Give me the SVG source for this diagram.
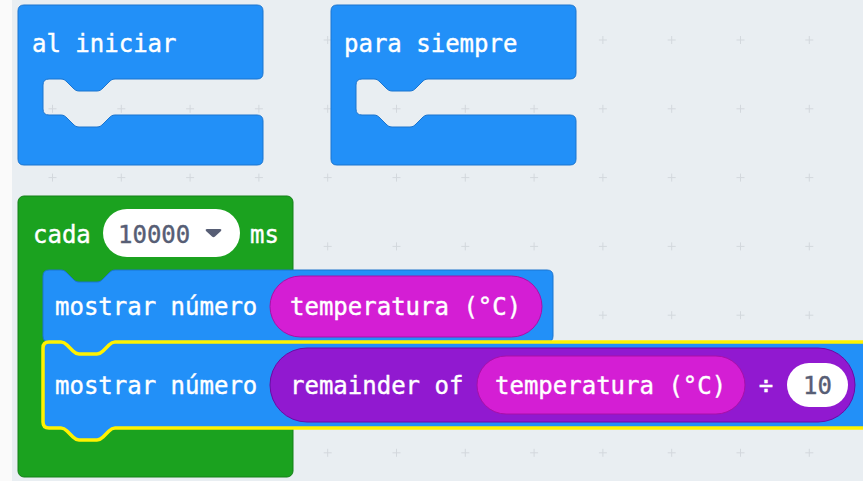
<svg xmlns="http://www.w3.org/2000/svg" width="863" height="481" viewBox="0 0 863 481">
<defs>
<style>
.bg{fill:#e9eef2}
.lbl{font-family:"DejaVu Sans Mono","Liberation Mono",monospace;font-size:24px;fill:#ffffff;stroke:#ffffff;stroke-width:0.4}
.num{font-family:"DejaVu Sans Mono","Liberation Mono",monospace;font-size:24px;fill:#575e75;stroke:#575e75;stroke-width:0.4}
.blue{fill:#2290f8;stroke:#1a74cf;stroke-width:1}
.green{fill:#1ba21f;stroke:#148018;stroke-width:1}
.mag{fill:#d41ed4;stroke:#a810a8;stroke-width:1}
.pur{fill:#9119d0;stroke:#6d0aa3;stroke-width:1}
.sel{fill:#2290f8;stroke:#fff200;stroke-width:3.5}
.grid{stroke:#d3d8dd;stroke-width:1;fill:none}
</style>
<path id="cshape" d="M24,5 H257 Q263,5 263,11 V73 Q263,79 257,79 H115 c-3,0 -4.5,1.5 -6,3 l-6,6 c-1.5,1.5 -3,3 -6,3 h-18 c-3,0 -4.5,-1.5 -6,-3 l-6,-6 c-1.5,-1.5 -3,-3 -6,-3 H49 Q43,79 43,85 V109 Q43,115 49,115 H61 c3,0 4.5,1.5 6,3 l6,6 c1.5,1.5 3,3 6,3 h18 c3,0 4.5,-1.5 6,-3 l6,-6 c1.5,-1.5 3,-3 6,-3 H257 Q263,115 263,121 V159 Q263,165 257,165 H24 Q18,165 18,159 V11 Q18,5 24,5 Z"/>
</defs>
<rect class="bg" x="0" y="0" width="863" height="481"/>
<rect x="0" y="0" width="12" height="481" fill="#fafafa"/>
<g class="grid">
<path d="M52.5,36v8M48.5,40h8 M121.3,36v8M117.3,40h8 M190.1,36v8M186.1,40h8 M258.9,36v8M254.9,40h8 M327.7,36v8M323.7,40h8 M396.5,36v8M392.5,40h8 M465.3,36v8M461.3,40h8 M534.1,36v8M530.1,40h8 M602.9,36v8M598.9,40h8 M671.7,36v8M667.7,40h8 M740.5,36v8M736.5,40h8 M809.3,36v8M805.3,40h8"/>
<path d="M52.5,104.8v8M48.5,108.8h8 M121.3,104.8v8M117.3,108.8h8 M190.1,104.8v8M186.1,108.8h8 M258.9,104.8v8M254.9,108.8h8 M327.7,104.8v8M323.7,108.8h8 M396.5,104.8v8M392.5,108.8h8 M465.3,104.8v8M461.3,108.8h8 M534.1,104.8v8M530.1,108.8h8 M602.9,104.8v8M598.9,108.8h8 M671.7,104.8v8M667.7,108.8h8 M740.5,104.8v8M736.5,108.8h8 M809.3,104.8v8M805.3,108.8h8"/>
<path d="M52.5,173.6v8M48.5,177.6h8 M121.3,173.6v8M117.3,177.6h8 M190.1,173.6v8M186.1,177.6h8 M258.9,173.6v8M254.9,177.6h8 M327.7,173.6v8M323.7,177.6h8 M396.5,173.6v8M392.5,177.6h8 M465.3,173.6v8M461.3,177.6h8 M534.1,173.6v8M530.1,177.6h8 M602.9,173.6v8M598.9,177.6h8 M671.7,173.6v8M667.7,177.6h8 M740.5,173.6v8M736.5,177.6h8 M809.3,173.6v8M805.3,177.6h8"/>
<path d="M327.7,242.4v8M323.7,246.4h8 M396.5,242.4v8M392.5,246.4h8 M465.3,242.4v8M461.3,246.4h8 M534.1,242.4v8M530.1,246.4h8 M602.9,242.4v8M598.9,246.4h8 M671.7,242.4v8M667.7,246.4h8 M740.5,242.4v8M736.5,246.4h8 M809.3,242.4v8M805.3,246.4h8"/>
<path d="M602.9,311.2v8M598.9,315.2h8 M671.7,311.2v8M667.7,315.2h8 M740.5,311.2v8M736.5,315.2h8 M809.3,311.2v8M805.3,315.2h8"/>
<path d="M327.7,448.8v8M323.7,452.8h8 M396.5,448.8v8M392.5,452.8h8 M465.3,448.8v8M461.3,452.8h8 M534.1,448.8v8M530.1,452.8h8 M602.9,448.8v8M598.9,452.8h8 M671.7,448.8v8M667.7,452.8h8 M740.5,448.8v8M736.5,452.8h8 M809.3,448.8v8M805.3,452.8h8"/>
</g>
<g id="al-iniciar">
<use href="#cshape" class="blue"/>
<text class="lbl" x="32" y="52">al iniciar</text>
</g>
<g id="para-siempre">
<use href="#cshape" class="blue" transform="translate(313,0)"/>
<text class="lbl" x="344" y="52">para siempre</text>
</g>
<g id="cada">
<rect class="green" x="18" y="196" width="275" height="281" rx="6"/>
<text class="lbl" x="33" y="243">cada</text>
<rect x="103" y="209" width="137" height="48" rx="24" fill="#ffffff"/>
<text class="num" x="118" y="243">10000</text>
<path d="M207,229 H220 Q222,229 221,231 L215,236.5 Q213.5,238 212,236.5 L206,231 Q205,229 207,229 Z" fill="#575e75"/>
<text class="lbl" x="250" y="243">ms</text>
</g>
<g id="mostrar1">
<path class="blue" d="M49,270 H61 c3,0 4.5,1.5 6,3 l6,6 c1.5,1.5 3,3 6,3 h18 c3,0 4.5,-1.5 6,-3 l6,-6 c1.5,-1.5 3,-3 6,-3 H547 Q553,270 553,276 V336 Q553,342 547,342 H115 c-3,0 -4.5,1.5 -6,3 l-6,6 c-1.5,1.5 -3,3 -6,3 h-18 c-3,0 -4.5,-1.5 -6,-3 l-6,-6 c-1.5,-1.5 -3,-3 -6,-3 H49 Q43,342 43,336 V276 Q43,270 49,270 Z"/>
<text class="lbl" x="55" y="315">mostrar número</text>
<rect class="mag" x="270" y="276" width="272" height="61" rx="30.5"/>
<text class="lbl" x="290" y="315">temperatura (°C)</text>
</g>
<g id="mostrar2">
<path class="sel" d="M49,342 H61 c3,0 4.5,1.5 6,3 l6,6 c1.5,1.5 3,3 6,3 h18 c3,0 4.5,-1.5 6,-3 l6,-6 c1.5,-1.5 3,-3 6,-3 H880 V428 H115 c-3,0 -4.5,1.5 -6,3 l-6,6 c-1.5,1.5 -3,3 -6,3 h-18 c-3,0 -4.5,-1.5 -6,-3 l-6,-6 c-1.5,-1.5 -3,-3 -6,-3 H49 Q43,428 43,422 V348 Q43,342 49,342 Z"/>
<text class="lbl" x="55" y="394">mostrar número</text>
<rect class="pur" x="270" y="348" width="585" height="74" rx="37"/>
<text class="lbl" x="290" y="394">remainder of</text>
<rect class="mag" x="477" y="356" width="268" height="58" rx="29"/>
<text class="lbl" x="495" y="394">temperatura (°C)</text>
<text class="lbl" x="766" y="394" text-anchor="middle">÷</text>
<rect x="787" y="363" width="61" height="44" rx="22" fill="#ffffff"/>
<text class="num" x="817.5" y="394" text-anchor="middle">10</text>
</g>
<g id="connectors"/>
</svg>
